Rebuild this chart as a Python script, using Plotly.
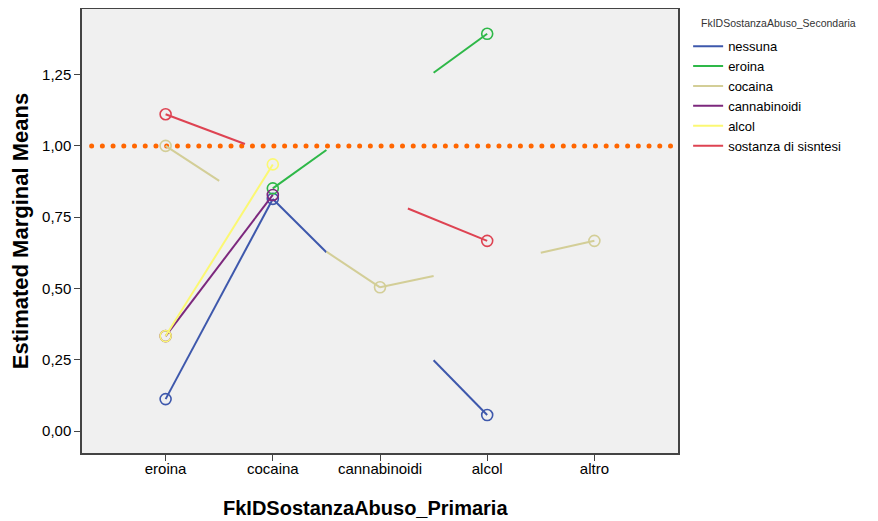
import numpy as np
import plotly.graph_objects as go

# ---------------- data ----------------
categories = ["eroina", "cocaina", "cannabinoidi", "alcol", "altro"]
series_names = ["nessuna", "eroina", "cocaina", "cannabinoidi", "alcol", "sostanza di sisntesi"]

# estimable marginal means (circle marker drawn)
nessuna = [0.112, 0.814, None, 0.056, None]
eroina = [None, 0.851, None, 1.393, None]
cocaina = [1.000, None, 0.504, None, 0.667]
cannabinoidi = [0.333, 0.828, None, None, None]
alcol = [0.333, 0.935, None, None, None]
sostanza = [1.111, None, None, 0.667, None]

# non-estimable means (only a partial line is drawn towards them)
nessuna_ne = [None, None, 0.44, None, None]
eroina_ne = [None, None, 1.12, None, None]
cocaina_ne = [None, 0.754, None, 0.584, None]
cannabinoidi_ne = [None, None, None, None, None]
alcol_ne = [None, None, None, None, None]
sostanza_ne = [None, 0.97, 0.82, None, None]

reference_value = 1.0
y_tick_values = [0.0, 0.25, 0.5, 0.75, 1.0, 1.25]
legend_title = "FkIDSostanzaAbuso_Secondaria"
x_title = "FkIDSostanzaAbuso_Primaria"
y_title = "Estimated Marginal Means"

# ---------------- styles ----------------
colors = ["#3E58AC", "#2EB848", "#D3CE97", "#7C287D", "#FBF873", "#DE4352"]
reach = [0.5, 0.5, 0.5, 0.5, 0.5, 0.74]

estimable = [nessuna, eroina, cocaina, cannabinoidi, alcol, sostanza]
non_estimable = [nessuna_ne, eroina_ne, cocaina_ne, cannabinoidi_ne, alcol_ne, sostanza_ne]

fig = go.Figure()

# reference dotted line
ref_x = np.arange(-0.79, 4.80, 0.1)
fig.add_trace(go.Scatter(
    x=ref_x, y=[reference_value] * len(ref_x), mode="markers",
    marker=dict(color="#FF6600", size=5, symbol="circle"),
    showlegend=False, hoverinfo="skip", cliponaxis=False,
))

for name, vals, hidden, col, f in zip(series_names, estimable, non_estimable, colors, reach):
    xs, ys = [], []
    for i in range(len(categories) - 1):
        a, b = vals[i], vals[i + 1]
        ha, hb = hidden[i], hidden[i + 1]
        if a is not None and b is not None:
            xs += [i, i + 1, None]
            ys += [a, b, None]
        elif a is not None and hb is not None:
            xs += [i, i + f, None]
            ys += [a, a + f * (hb - a), None]
        elif b is not None and ha is not None:
            xs += [i + 1 - f, i + 1, None]
            ys += [b + f * (ha - b), b, None]
    fig.add_trace(go.Scatter(
        x=xs, y=ys, mode="lines", name=name, legendgroup=name,
        line=dict(color=col, width=2), showlegend=True,
    ))
    mx = [i for i, v in enumerate(vals) if v is not None]
    my = [v for v in vals if v is not None]
    fig.add_trace(go.Scatter(
        x=mx, y=my, mode="markers", legendgroup=name, showlegend=False,
        marker=dict(symbol="circle-open", size=11, color=col, line=dict(width=1.6, color=col)),
    ))

# page body adds an 8px offset; margins compensate so the plot area sits at x 82-678, y 9-453
fig.update_layout(
    width=878, height=521,
    margin=dict(l=74, r=208, t=1, b=76, autoexpand=False),
    paper_bgcolor="white", plot_bgcolor="#F0F0F0",
    separators=", ",
    font=dict(family="Liberation Sans, Arial, sans-serif", color="#000"),
    legend=dict(
        x=1.017, y=0.95, xanchor="left", yanchor="top",
        font=dict(size=13), bgcolor="rgba(0,0,0,0)", tracegroupgap=0,
    ),
    annotations=[
        dict(text=legend_title, xref="paper", yref="paper", x=1.035, y=0.968,
             xanchor="left", yanchor="middle", showarrow=False,
             font=dict(size=10.5, color="#333")),
        dict(text="<b>" + x_title + "</b>", xref="paper", yref="paper", x=0.475, y=-0.124,
             xanchor="center", yanchor="middle", showarrow=False,
             font=dict(size=20)),
    ],
)
fig.update_xaxes(
    range=[-0.78, 4.78], tickmode="array", tickvals=list(range(len(categories))),
    ticktext=categories, ticks="outside", ticklen=6, tickcolor="#444",
    showline=True, linecolor="#444", linewidth=1.5, mirror=True, showgrid=False, zeroline=False,
    tickfont=dict(size=15), automargin=False, ticklabelstandoff=-5,
)
fig.update_yaxes(
    range=[-0.077, 1.480], tickmode="array", tickvals=y_tick_values, tickformat=".2f",
    ticks="outside", ticklen=6, tickcolor="#444",
    showline=True, linecolor="#444", linewidth=1.5, mirror=True, showgrid=False, zeroline=False,
    tickfont=dict(size=15), automargin=False,
    title=dict(text="<b>" + y_title + "</b>", font=dict(size=22), standoff=16),
)

fig.write_html("out.html")
